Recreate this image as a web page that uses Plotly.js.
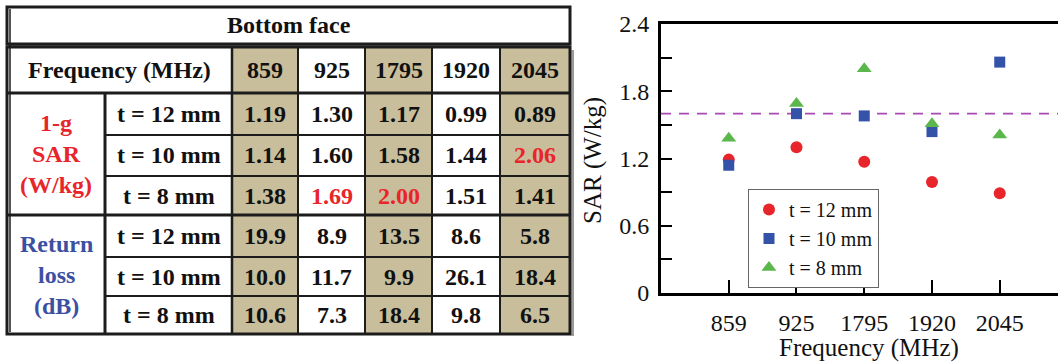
<!DOCTYPE html>
<html>
<head>
<meta charset="utf-8">
<script src="https://cdn.plot.ly/plotly-3.0.1.min.js"></script>
<style>
  html, body { margin: 0; padding: 0; background: #fff; }
  #chart { width: 1058px; height: 362px; }
</style>
</head>
<body>
<div id="chart"></div>
<script>
// Measured 1-g SAR and return loss, bottom face, for three spacings t
const frequencies = ['859', '925', '1795', '1920', '2045'];
const thicknessLabels = ['t = 12 mm', 't = 10 mm', 't = 8 mm'];

const sar12 = [1.19, 1.30, 1.17, 0.99, 0.89];
const sar10 = [1.14, 1.60, 1.58, 1.44, 2.06];
const sar8  = [1.38, 1.69, 2.00, 1.51, 1.41];

const rl12 = [19.9, 8.9, 13.5, 8.6, 5.8];
const rl10 = [10.0, 11.7, 9.9, 26.1, 18.4];
const rl8  = [10.6, 7.3, 18.4, 9.8, 6.5];

const sarLimit = 1.6;   // W/kg over 1 g

const yTickVals = [0, 0.3, 0.6, 0.9, 1.2, 1.5, 1.8, 2.1, 2.4];
const yTickText = ['0', '', '0.6', '', '1.2', '', '1.8', '', '2.4'];

// ---- styling ----
const SERIF = '"Liberation Serif", Tinos, "Times New Roman", Times, serif';
const RED = '#e8252a';
const BLUE = '#3352a8';
const GREEN = '#5bb64b';
const TAN = '#c9be9b';
const INK = '#1c1c1c';
const W = 1058, H = 362;

// table geometry in page pixels, converted to paper fractions
const colEdges = [7, 105, 232, 298, 365, 432, 500, 570];
const rowEdges = [47, 93, 135, 176, 215, 257, 296, 334];
const titleTop = 7, titleBottom = 44;
const px = x => x / W;
const py = y => 1 - y / H;

const sarRows = [sar12, sar10, sar8];
const rlRows = [rl12, rl10, rl8];

const shapes = [];
const annotations = [];

function rect(x0, y0, x1, y1, fill, lineW) {
  shapes.push({type: 'rect', xref: 'paper', yref: 'paper',
    x0: px(x0), x1: px(x1), y0: py(y0), y1: py(y1),
    fillcolor: fill || 'rgba(0,0,0,0)', line: {color: INK, width: lineW || 0}, layer: 'above'});
}
function hline(y, x0, x1, w) {
  shapes.push({type: 'line', xref: 'paper', yref: 'paper', x0: px(x0), x1: px(x1), y0: py(y), y1: py(y),
    line: {color: INK, width: w}, layer: 'above'});
}
function vline(x, y0, y1, w) {
  shapes.push({type: 'line', xref: 'paper', yref: 'paper', x0: px(x), x1: px(x), y0: py(y0), y1: py(y1),
    line: {color: INK, width: w}, layer: 'above'});
}

const tblL = colEdges[0], tblR = colEdges[colEdges.length - 1];
const tblT = rowEdges[0], tblB = rowEdges[rowEdges.length - 1];

// shaded frequency columns
frequencies.forEach((f, j) => {
  if (j % 2 === 0) rect(colEdges[j + 2], tblT, colEdges[j + 3], tblB, TAN, 0);
});

// inner grid
hline(rowEdges[1], tblL, tblR, 3);
hline(rowEdges[4], tblL, tblR, 3);
[2, 3, 5, 6].forEach(i => hline(rowEdges[i], colEdges[1], tblR, 2));
vline(colEdges[1], rowEdges[1], tblB, 3);
vline(colEdges[2], tblT, tblB, 2.5);
for (let i = 3; i < colEdges.length - 1; i++) vline(colEdges[i], tblT, tblB, 2);

// frames, gap band and drop shadow
rect(tblR + 1.5, tblT + 3, tblR + 4, tblB + 2, '#9a9a9a', 0);
rect(tblL, titleBottom, tblR, tblT, '#8a8a8a', 0);
rect(tblL, titleTop, tblR, titleBottom, null, 3);
rect(tblL, tblT, tblR, tblB, null, 3);
vline(tblL + 3, titleTop + 2, tblB - 2, 1.5);

function cellText(text, x, y, color) {
  annotations.push({xref: 'paper', yref: 'paper', x: px(x), y: py(y), text: text, showarrow: false,
    xanchor: 'center', yanchor: 'middle',
    font: {family: SERIF, size: 24, color: color || '#111', weight: 700}});
}
const midX = j => (colEdges[j] + colEdges[j + 1]) / 2;
const midY = i => (rowEdges[i] + rowEdges[i + 1]) / 2;

cellText('Bottom face', (tblL + tblR) / 2, (titleTop + titleBottom) / 2);
cellText('Frequency (MHz)', (colEdges[0] + colEdges[2]) / 2, midY(0));
frequencies.forEach((f, j) => cellText(f, midX(j + 2), midY(0)));

cellText('1-g<br>SAR<br>(W/kg)', midX(0), (rowEdges[1] + rowEdges[4]) / 2, RED);
cellText('Return<br>loss<br>(dB)', midX(0), (rowEdges[4] + rowEdges[7]) / 2, '#3c50a2');

thicknessLabels.forEach((lab, k) => {
  cellText(lab, midX(1), midY(1 + k));
  cellText(lab, midX(1), midY(4 + k));
});
sarRows.forEach((row, k) => row.forEach((v, j) =>
  cellText(v.toFixed(2), midX(j + 2), midY(1 + k), v > sarLimit ? RED : '#111')));
rlRows.forEach((row, k) => row.forEach((v, j) =>
  cellText(v.toFixed(1), midX(j + 2), midY(4 + k))));

// SAR limit
shapes.push({type: 'line', xref: 'x domain', yref: 'y', x0: 0, x1: 1, y0: sarLimit, y1: sarLimit,
  line: {color: '#a948b2', width: 1.6, dash: '10px,8px'}, layer: 'below'});

// axis titles
annotations.push({xref: 'paper', yref: 'paper', x: px(869), y: py(348), text: 'Frequency (MHz)',
  showarrow: false, xanchor: 'center', yanchor: 'middle', font: {family: SERIF, size: 25, color: '#111'}});
annotations.push({xref: 'paper', yref: 'paper', x: px(593), y: py(161), text: 'SAR (W/kg)',
  textangle: -90, showarrow: false, xanchor: 'center', yanchor: 'middle',
  font: {family: SERIF, size: 25, color: '#111'}});

const traces = [
  {type: 'scatter', mode: 'markers', name: thicknessLabels[0], x: frequencies, y: sar12,
   marker: {symbol: 'circle', size: 12, color: RED}},
  {type: 'scatter', mode: 'markers', name: thicknessLabels[1], x: frequencies, y: sar10,
   marker: {symbol: 'square', size: 11, color: BLUE}},
  {type: 'scatter', mode: 'markers', name: thicknessLabels[2], x: frequencies, y: sar8,
   marker: {symbol: 'triangle-up', size: 13, color: GREEN}}
];

const layout = {
  width: W, height: H,
  margin: {l: 0, r: 0, t: 0, b: 0},
  paper_bgcolor: '#fff', plot_bgcolor: '#fff',
  font: {family: SERIF, color: '#111'},
  showlegend: true,
  legend: {x: px(748), y: py(189), xanchor: 'left', yanchor: 'top',
    bgcolor: '#fff', bordercolor: '#666', borderwidth: 1,
    font: {family: SERIF, size: 20, color: '#111'}, itemwidth: 30, tracegroupgap: 0},
  xaxis: {type: 'category', domain: [px(661), 1], range: [-1, 4.86], fixedrange: true,
    showline: true, linecolor: '#000', linewidth: 3, mirror: true,
    ticks: 'inside', ticklen: 13, tickwidth: 2, tickcolor: '#000',
    showgrid: false, zeroline: false, ticklabelstandoff: 6,
    tickfont: {family: SERIF, size: 24, color: '#111'}},
  yaxis: {domain: [py(293), py(24)], range: [0, 2.4], fixedrange: true,
    showline: true, linecolor: '#000', linewidth: 3, mirror: false,
    tickmode: 'array', tickvals: yTickVals, ticktext: yTickText,
    ticks: 'inside', ticklen: 11, tickwidth: 2, tickcolor: '#000',
    showgrid: false, zeroline: false, ticklabelstandoff: 4,
    tickfont: {family: SERIF, size: 24, color: '#111'}},
  shapes: shapes,
  annotations: annotations
};

Plotly.newPlot('chart', traces, layout, {displayModeBar: false, staticPlot: true});
</script>
</body>
</html>
